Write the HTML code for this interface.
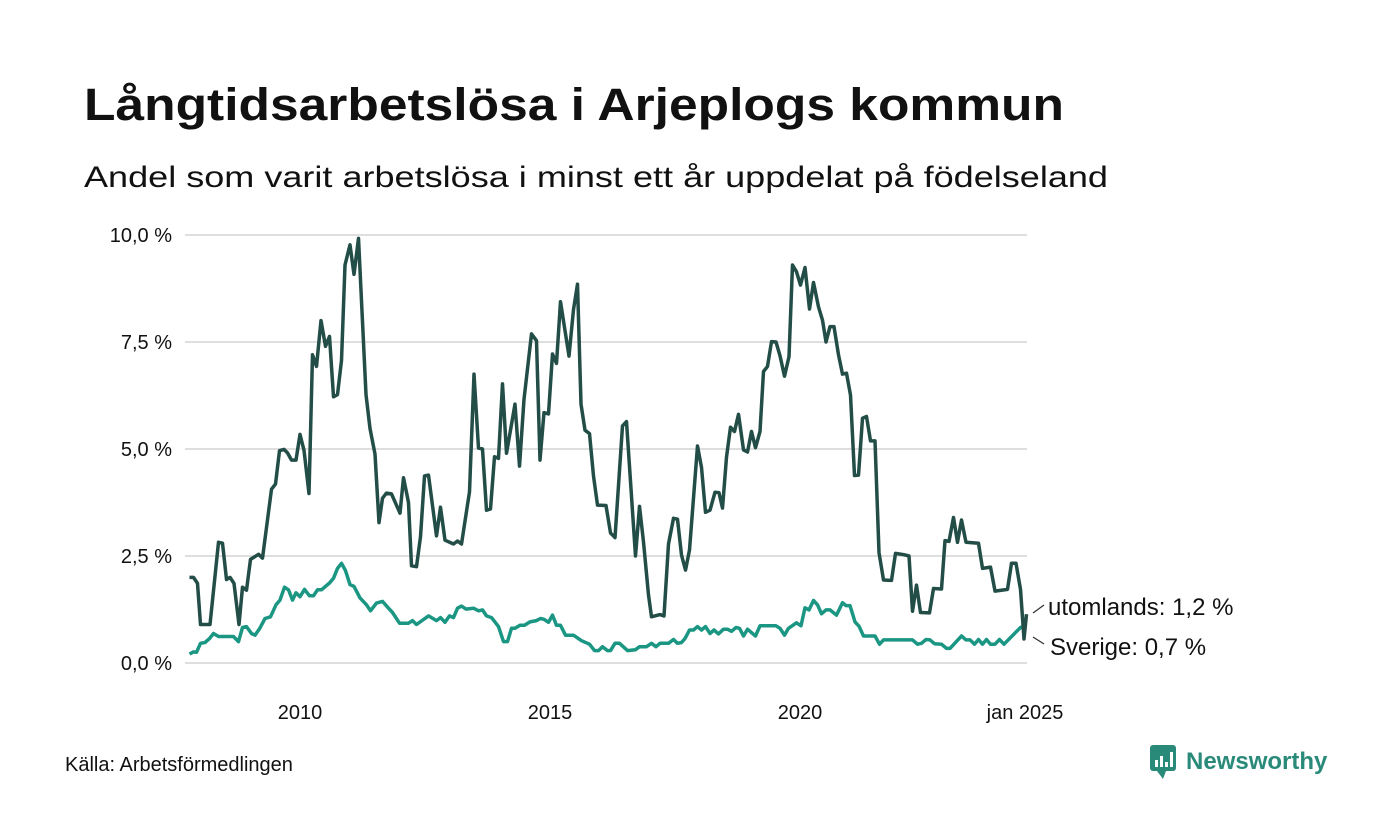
<!DOCTYPE html>
<html><head><meta charset="utf-8"><style>
html,body{margin:0;padding:0;background:#fff}
svg{display:block;font-family:"Liberation Sans",sans-serif}
</style></head><body>
<svg id="chart" width="1400" height="840" viewBox="0 0 1400 840">
<text x="84" y="120" font-size="45" font-weight="bold" fill="#111" textLength="980" lengthAdjust="spacingAndGlyphs">Långtidsarbetslösa i Arjeplogs kommun</text>
<text x="84" y="187" font-size="30" fill="#111" textLength="1024" lengthAdjust="spacingAndGlyphs">Andel som varit arbetslösa i minst ett år uppdelat på födelseland</text>
<g id="grid"></g>
<g id="yticks"></g>
<g id="xticks"></g>
<g id="series"></g>
<g>
<line x1="1033" y1="613" x2="1044" y2="605" stroke="#333" stroke-width="1.3"/>
<line x1="1033" y1="637" x2="1044" y2="644" stroke="#333" stroke-width="1.3"/>
<text x="1048" y="615" font-size="24" fill="#111">utomlands: 1,2 %</text>
<text x="1050" y="655" font-size="24" fill="#111">Sverige: 0,7 %</text>
</g>
<text x="65" y="771" font-size="20" fill="#111">Källa: Arbetsförmedlingen</text>
<g>
<rect x="1150" y="745" width="26" height="26" rx="3" fill="#2a8a7a"/>
<polygon points="1157,771 1163,779 1166,771" fill="#2a8a7a"/>
<rect x="1155" y="760" width="3" height="7" fill="#fff"/><rect x="1160" y="756" width="3" height="11" fill="#fff"/><rect x="1165" y="762" width="3" height="5" fill="#fff"/><rect x="1170" y="752" width="3" height="15" fill="#fff"/>
<text x="1186" y="769" font-size="24" font-weight="bold" fill="#2a8a7a">Newsworthy</text>
</g>
</svg>
<script>
const yTicks=[0,2.5,5,7.5,10];
const yTickLabels=["0,0 %","2,5 %","5,0 %","7,5 %","10,0 %"];
const xTicks=[2010.5,2015.5,2020.5,2025.0];
const xTickLabels=["2010","2015","2020","jan 2025"];
const utDates=[2008.29,2008.37,2008.45,2008.51,2008.70,2008.87,2008.95,2009.03,2009.10,2009.18,2009.28,2009.35,2009.43,2009.51,2009.67,2009.75,2009.93,2010.01,2010.09,2010.18,2010.25,2010.33,2010.42,2010.50,2010.58,2010.68,2010.75,2010.83,2010.92,2011.01,2011.09,2011.17,2011.25,2011.33,2011.40,2011.50,2011.58,2011.67,2011.82,2011.90,2012.00,2012.08,2012.15,2012.23,2012.33,2012.50,2012.57,2012.67,2012.73,2012.83,2012.91,2012.99,2013.07,2013.23,2013.31,2013.40,2013.57,2013.65,2013.73,2013.89,2013.98,2014.07,2014.15,2014.23,2014.31,2014.39,2014.47,2014.55,2014.63,2014.80,2014.89,2014.98,2015.13,2015.23,2015.30,2015.38,2015.47,2015.55,2015.63,2015.71,2015.88,2015.97,2016.05,2016.12,2016.20,2016.29,2016.37,2016.45,2016.62,2016.71,2016.80,2016.95,2017.03,2017.21,2017.29,2017.37,2017.47,2017.53,2017.70,2017.78,2017.87,2017.97,2018.05,2018.13,2018.21,2018.29,2018.45,2018.53,2018.61,2018.70,2018.80,2018.88,2018.95,2019.03,2019.11,2019.19,2019.27,2019.37,2019.45,2019.53,2019.61,2019.70,2019.77,2019.85,2019.93,2020.02,2020.10,2020.19,2020.28,2020.35,2020.43,2020.51,2020.60,2020.69,2020.77,2020.87,2020.95,2021.02,2021.10,2021.18,2021.27,2021.35,2021.43,2021.51,2021.59,2021.67,2021.75,2021.83,2021.91,2022.00,2022.08,2022.17,2022.33,2022.41,2022.58,2022.68,2022.75,2022.83,2022.91,2023.09,2023.17,2023.33,2023.40,2023.48,2023.57,2023.65,2023.73,2023.82,2024.07,2024.15,2024.31,2024.40,2024.65,2024.73,2024.82,2024.91,2024.98,2025.03];
const utValues=[2.0,2.0,1.86,0.9,0.9,2.82,2.8,1.95,2.0,1.86,0.9,1.77,1.7,2.42,2.54,2.45,4.06,4.18,4.96,4.99,4.91,4.74,4.74,5.34,4.97,3.96,7.2,6.93,8.0,7.4,7.63,6.22,6.27,7.07,9.3,9.77,9.08,9.92,6.27,5.48,4.88,3.28,3.85,3.97,3.95,3.5,4.33,3.75,2.27,2.25,2.95,4.37,4.39,2.97,3.64,2.87,2.78,2.85,2.78,4.0,6.75,5.02,5.0,3.57,3.6,4.82,4.78,6.52,4.9,6.05,4.6,6.16,7.69,7.53,4.74,5.85,5.82,7.22,7.0,8.44,7.17,8.26,8.85,6.05,5.44,5.36,4.37,3.69,3.68,3.04,2.93,5.54,5.64,2.5,3.66,2.83,1.59,1.08,1.13,1.1,2.78,3.38,3.36,2.52,2.17,2.64,5.07,4.57,3.52,3.57,3.99,3.98,3.62,4.81,5.51,5.41,5.81,4.98,4.93,5.41,5.03,5.41,6.81,6.93,7.51,7.5,7.18,6.7,7.16,9.3,9.14,8.83,9.24,8.27,8.89,8.32,8.01,7.5,7.86,7.86,7.2,6.75,6.77,6.26,4.38,4.39,5.72,5.76,5.19,5.19,2.58,1.94,1.93,2.56,2.53,2.5,1.21,1.82,1.18,1.17,1.74,1.73,2.86,2.84,3.4,2.82,3.34,2.82,2.8,2.21,2.24,1.68,1.72,2.33,2.33,1.72,0.56,1.14];
const seDates=[2008.29,2008.37,2008.43,2008.51,2008.60,2008.69,2008.77,2008.87,2009.17,2009.27,2009.35,2009.43,2009.53,2009.60,2009.69,2009.80,2009.91,2010.02,2010.10,2010.19,2010.27,2010.35,2010.42,2010.50,2010.59,2010.69,2010.77,2010.85,2010.93,2011.09,2011.17,2011.25,2011.33,2011.41,2011.50,2011.58,2011.70,2011.83,2011.91,2012.03,2012.15,2012.27,2012.35,2012.49,2012.67,2012.75,2012.83,2013.07,2013.23,2013.31,2013.40,2013.49,2013.57,2013.65,2013.73,2013.82,2013.97,2014.07,2014.15,2014.23,2014.33,2014.47,2014.57,2014.65,2014.73,2014.80,2014.90,2014.99,2015.10,2015.23,2015.31,2015.38,2015.47,2015.55,2015.63,2015.71,2015.81,2015.97,2016.13,2016.29,2016.39,2016.47,2016.55,2016.65,2016.71,2016.80,2016.89,2017.05,2017.21,2017.29,2017.43,2017.53,2017.62,2017.70,2017.87,2017.97,2018.05,2018.13,2018.20,2018.29,2018.37,2018.45,2018.53,2018.61,2018.70,2018.78,2018.87,2018.97,2019.05,2019.13,2019.22,2019.29,2019.37,2019.45,2019.61,2019.70,2020.02,2020.10,2020.19,2020.27,2020.43,2020.52,2020.60,2020.68,2020.77,2020.85,2020.93,2021.02,2021.10,2021.23,2021.35,2021.42,2021.50,2021.60,2021.68,2021.77,2022.00,2022.09,2022.17,2022.75,2022.85,2022.93,2023.02,2023.10,2023.19,2023.33,2023.43,2023.50,2023.73,2023.82,2023.90,2023.99,2024.07,2024.15,2024.23,2024.31,2024.40,2024.49,2024.58,2024.91,2024.98];
const seValues=[0.21,0.26,0.25,0.46,0.48,0.57,0.69,0.62,0.62,0.5,0.83,0.85,0.69,0.65,0.8,1.04,1.08,1.36,1.47,1.77,1.71,1.47,1.64,1.55,1.72,1.57,1.57,1.71,1.71,1.87,1.98,2.21,2.33,2.16,1.83,1.79,1.52,1.36,1.22,1.4,1.44,1.28,1.18,0.93,0.93,0.99,0.9,1.1,0.99,1.06,0.95,1.1,1.06,1.28,1.33,1.26,1.28,1.22,1.24,1.1,1.06,0.85,0.5,0.5,0.81,0.81,0.88,0.88,0.96,0.99,1.04,1.02,0.95,1.12,0.88,0.88,0.65,0.65,0.52,0.44,0.29,0.29,0.38,0.29,0.29,0.46,0.46,0.29,0.31,0.38,0.38,0.46,0.38,0.46,0.46,0.55,0.46,0.48,0.57,0.77,0.77,0.85,0.77,0.85,0.69,0.77,0.68,0.79,0.79,0.74,0.83,0.81,0.63,0.79,0.63,0.87,0.87,0.81,0.65,0.81,0.94,0.87,1.29,1.24,1.46,1.36,1.15,1.24,1.24,1.12,1.41,1.34,1.34,0.96,0.86,0.63,0.63,0.44,0.54,0.54,0.44,0.46,0.55,0.54,0.45,0.44,0.34,0.34,0.63,0.54,0.54,0.44,0.55,0.44,0.55,0.44,0.44,0.55,0.44,0.83,0.85];

const NS='http://www.w3.org/2000/svg';
const xS=d=>275+(d-2010)*50;
const yS=v=>663-v*42.8;
function mk(tag,attrs,parent){const e=document.createElementNS(NS,tag);for(const k in attrs)e.setAttribute(k,attrs[k]);parent.appendChild(e);return e;}
const grid=document.getElementById('grid'),yt=document.getElementById('yticks'),xt=document.getElementById('xticks'),ser=document.getElementById('series');
yTicks.forEach((t,i)=>{
  const l=mk('line',{x1:185,x2:1027,y1:yS(t),y2:yS(t),stroke:'#dedede','stroke-width':2},grid);
  
  
  const tx=mk('text',{x:172,y:yS(t)+7,'font-size':20,fill:'#111','text-anchor':'end'},yt);
  tx.textContent=yTickLabels[i];
  
  
});
xTicks.forEach((t,i)=>{
  const tx=mk('text',{x:xS(t),y:719,'font-size':20,fill:'#111','text-anchor':'middle'},xt);
  tx.textContent=xTickLabels[i];
  
  
});
function line(ds,vs,color,name){
  const d=ds.map((x,i)=>(i?'L':'M')+xS(x).toFixed(1)+','+yS(vs[i]).toFixed(1)).join('');
  const p=mk('path',{d:d,fill:'none',stroke:color,'stroke-width':3.5,'stroke-linejoin':'round'},ser);
  
  
}
line(seDates,seValues,'#1a9683','line-sverige');
line(utDates,utValues,'#234d47','line-utomlands');
</script>
</body></html>
